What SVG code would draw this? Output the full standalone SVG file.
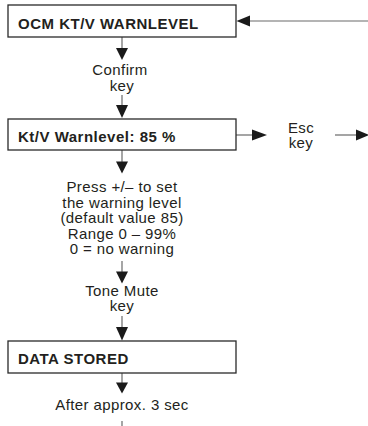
<svg xmlns="http://www.w3.org/2000/svg" width="368" height="426" viewBox="0 0 368 426">
<style>
.box{fill:#fff;stroke:#2a2a2a;stroke-width:1.3}
.t{font-family:"Liberation Sans",Arial,sans-serif;font-size:15px;letter-spacing:0.4px;fill:#231f20;text-anchor:middle}
.b{font-family:"Liberation Sans",Arial,sans-serif;font-size:15px;letter-spacing:0.5px;font-weight:bold;fill:#231f20}
.c{stroke:#6a6a6a;stroke-width:1.2;fill:none}
.ah{fill:#1a1a1a}
</style>
<rect width="368" height="426" fill="#fff"/>
<g id="connectors">
<line class="c" x1="368" y1="21" x2="248" y2="21"/>
<polygon class="ah" points="236.5,21 250,15.5 250,26.5"/>
<line class="c" x1="122" y1="37" x2="122" y2="50"/>
<polygon class="ah" points="122,60 116,48 128,48"/>
<line class="c" x1="122" y1="95" x2="122" y2="107"/>
<polygon class="ah" points="122,118 116,105 128,105"/>
<line class="c" x1="236" y1="135" x2="254" y2="135"/>
<polygon class="ah" points="267,135 252,129.5 252,140.5"/>
<line class="c" x1="335" y1="135" x2="358" y2="135"/>
<polygon class="ah" points="369,135 356,129.5 356,140.5"/>
<line class="c" x1="122" y1="150" x2="122" y2="163"/>
<polygon class="ah" points="122,173.5 116,161.5 128,161.5"/>
<line class="c" x1="122" y1="261" x2="122" y2="273"/>
<polygon class="ah" points="122,283.5 116,271.5 128,271.5"/>
<line class="c" x1="122" y1="316" x2="122" y2="328"/>
<polygon class="ah" points="122,340.5 116,327 128,327"/>
<line class="c" x1="122" y1="373" x2="122" y2="385"/>
<polygon class="ah" points="122,393.5 116,382.5 128,382.5"/>
<line class="c" x1="122" y1="421" x2="122" y2="426"/>
</g>
<g id="node-ocm">
<rect class="box" x="8" y="5" width="228" height="32"/>
<text class="b" x="18" y="29">OCM KT/V WARNLEVEL</text>
</g>
<g id="label-confirm">
<text class="t" x="120" y="75">Confirm</text>
<text class="t" x="122" y="90.5">key</text>
</g>
<g id="node-warnlevel">
<rect class="box" x="8" y="119" width="228" height="31"/>
<text class="b" x="18" y="141.5">Kt/V Warnlevel: 85 %</text>
</g>
<g id="label-esc">
<text class="t" x="301" y="132.5">Esc</text>
<text class="t" x="301" y="148">key</text>
</g>
<g id="label-press">
<text class="t" x="122" y="192">Press +/– to set</text>
<text class="t" x="122" y="207.5">the warning level</text>
<text class="t" x="122" y="223">(default value 85)</text>
<text class="t" x="122" y="238.5">Range 0 – 99%</text>
<text class="t" x="122" y="254">0 = no warning</text>
</g>
<g id="label-tone">
<text class="t" x="122" y="295.5">Tone Mute</text>
<text class="t" x="122" y="311">key</text>
</g>
<g id="node-stored">
<rect class="box" x="8" y="341" width="228" height="32"/>
<text class="b" x="18" y="363.5">DATA STORED</text>
</g>
<g id="label-after">
<text class="t" x="122" y="409.5">After approx. 3 sec</text>
</g>
</svg>
